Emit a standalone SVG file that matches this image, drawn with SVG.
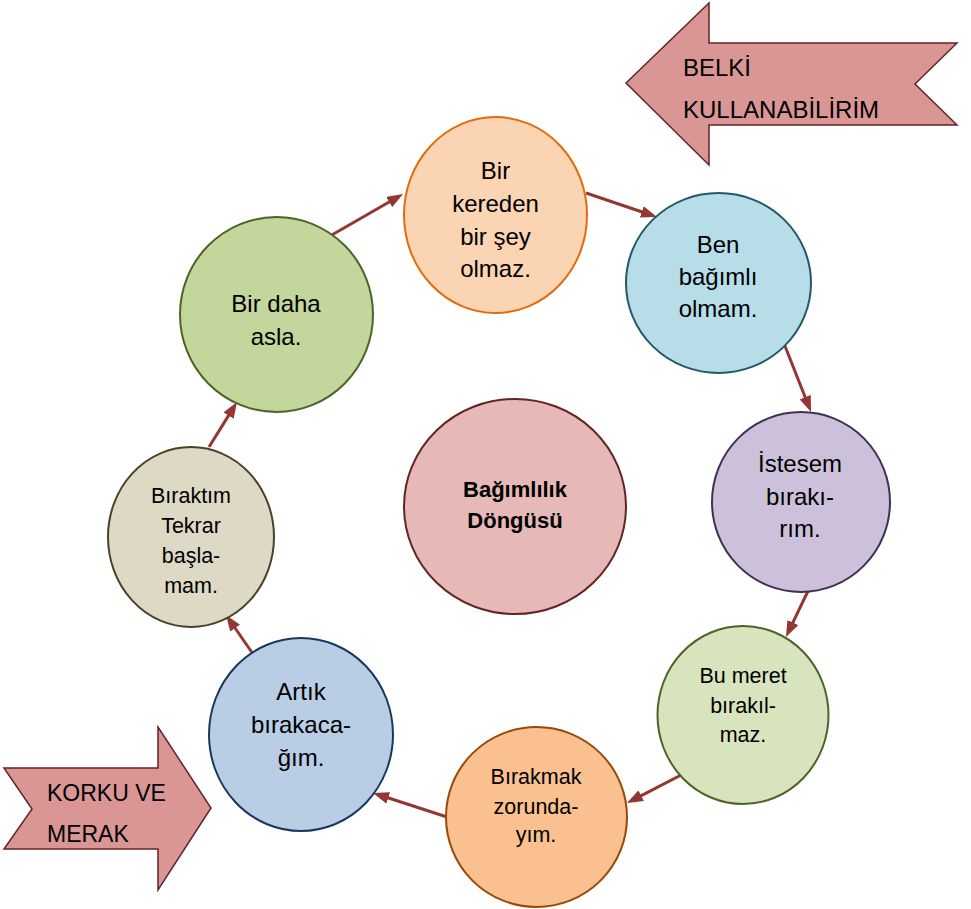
<svg xmlns="http://www.w3.org/2000/svg" width="971" height="909" viewBox="0 0 971 909">
<style>
.t{font-family:"Liberation Sans",Arial,sans-serif;font-size:24px;fill:#000;text-anchor:middle}
.s{font-size:21.5px}
.b{font-weight:bold;font-size:22px}
.big{font-family:"Liberation Sans",Arial,sans-serif;font-size:24px;fill:#000}
.c{stroke-width:2}
.con line{stroke:#943634;stroke-width:3;marker-end:url(#ah)}
.blk{fill:#D99694;stroke:#632523;stroke-width:1.5}
</style>
<defs>
<marker id="ah" markerUnits="userSpaceOnUse" viewBox="0 0 16 12" refX="2" refY="6" markerWidth="16" markerHeight="12" orient="auto">
<path d="M0,0 L16,6 L0,12 z" fill="#943634"/>
</marker>
</defs>
<rect width="971" height="909" fill="#fff"/>

<g id="arrow-belki">
<polygon class="blk" points="626,83 709,3 709,43 957,43 915,84 957,125 709,125 709,165"/>
<text class="big" x="683" y="76">BELKİ</text>
<text class="big" x="683" y="118">KULLANABİLİRİM</text>
</g>
<g id="arrow-korku">
<polygon class="blk" points="4,768 158,768 158,727 211,808 158,890 158,849 4,849 32,809"/>
<text class="big" x="47" y="801" style="font-size:23px">KORKU VE</text>
<text class="big" x="47" y="842" style="font-size:23px">MERAK</text>
</g>

<g id="connectors" class="con">
<line x1="330" y1="236" x2="390.9" y2="201.0"/>
<line x1="586" y1="193" x2="643.7" y2="212.5"/>
<line x1="783" y1="341" x2="805.9" y2="399.0"/>
<line x1="808" y1="591" x2="792.0" y2="624.4"/>
<line x1="683" y1="774" x2="639.4" y2="796.6"/>
<line x1="447" y1="817" x2="386.3" y2="797.3"/>
<line x1="253" y1="654" x2="234.0" y2="626.5"/>
<line x1="209" y1="447" x2="229.6" y2="413.9"/>
</g>

<g id="n-center">
<ellipse class="c" cx="515" cy="506.5" rx="111" ry="107.5" fill="#E6B9B8" stroke="#632523"/>
<text class="t b" x="515" y="497">Bağımlılık</text>
<text class="t b" x="515" y="528">Döngüsü</text>
</g>
<g id="n-kereden">
<ellipse class="c" cx="495.5" cy="215" rx="91.5" ry="98" fill="#FBD4B4" stroke="#E36C0A"/>
<text class="t" x="495.5" y="179">Bir</text>
<text class="t" x="495.5" y="212">kereden</text>
<text class="t" x="495.5" y="245">bir şey</text>
<text class="t" x="495.5" y="277">olmaz.</text>
</g>
<g id="n-ben">
<ellipse class="c" cx="718.5" cy="283" rx="92.5" ry="90" fill="#B6DDE8" stroke="#215968"/>
<text class="t" x="718" y="253">Ben</text>
<text class="t" x="718" y="285">bağımlı</text>
<text class="t" x="718" y="317">olmam.</text>
</g>
<g id="n-istesem">
<ellipse class="c" cx="801" cy="502" rx="89" ry="90" fill="#CCC0DA" stroke="#3F3151"/>
<text class="t" x="800" y="472">İstesem</text>
<text class="t" x="800" y="505">bırakı-</text>
<text class="t" x="800" y="537">rım.</text>
</g>
<g id="n-meret">
<ellipse class="c" cx="743" cy="715" rx="85.5" ry="89" fill="#D7E4BD" stroke="#4F6228"/>
<text class="t s" x="743" y="683">Bu meret</text>
<text class="t s" x="743" y="713">bırakıl-</text>
<text class="t s" x="743" y="742">maz.</text>
</g>
<g id="n-birakmak">
<ellipse class="c" cx="536.5" cy="817" rx="90.5" ry="90" fill="#FAC090" stroke="#984807"/>
<text class="t s" x="536" y="784">Bırakmak</text>
<text class="t s" x="536" y="814">zorunda-</text>
<text class="t s" x="536" y="842">yım.</text>
</g>
<g id="n-artik">
<ellipse class="c" cx="301" cy="734.5" rx="92" ry="96.5" fill="#B9CDE5" stroke="#17375E"/>
<text class="t" x="301" y="700">Artık</text>
<text class="t" x="301" y="733">bırakaca-</text>
<text class="t" x="301" y="766">ğım.</text>
</g>
<g id="n-biraktim">
<ellipse class="c" cx="191" cy="537" rx="83" ry="90" fill="#DDD9C4" stroke="#494429"/>
<text class="t s" x="191" y="503">Bıraktım</text>
<text class="t s" x="191" y="533">Tekrar</text>
<text class="t s" x="191" y="563">başla-</text>
<text class="t s" x="191" y="593">mam.</text>
</g>
<g id="n-birdaha">
<ellipse class="c" cx="276.5" cy="314.5" rx="96.5" ry="97.5" fill="#C3D69B" stroke="#4F6228"/>
<text class="t" x="276" y="312">Bir daha</text>
<text class="t" x="276" y="345">asla.</text>
</g>
</svg>
